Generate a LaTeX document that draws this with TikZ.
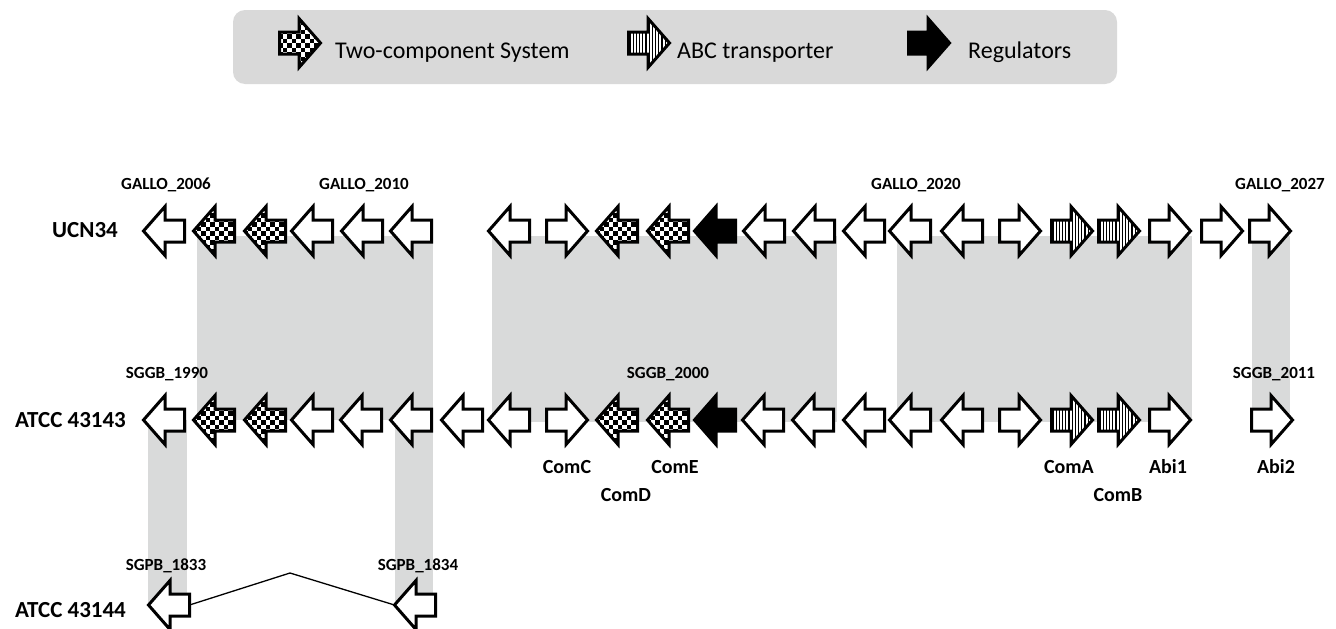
\documentclass[tikz,border=0pt]{standalone}
\usepackage{fontspec}
\setmainfont{Carlito}
\definecolor{bandgray}{RGB}{217,218,218}
\definecolor{legendgray}{RGB}{217,217,217}
\newcommand\gL[2]{({#1+1.5},{#2}) -- ({#1+23},{#2-24.5}) -- ({#1+23},{#2-11}) -- ({#1+42.5},{#2-11}) -- ({#1+42.5},{#2+11}) -- ({#1+23},{#2+11}) -- ({#1+23},{#2+24.5}) -- cycle}
\newcommand\gR[2]{({#1+42.5},{#2}) -- ({#1+21},{#2-24.5}) -- ({#1+21},{#2-11}) -- ({#1+1.5},{#2-11}) -- ({#1+1.5},{#2+11}) -- ({#1+21},{#2+11}) -- ({#1+21},{#2+24.5}) -- cycle}
\newcommand\gfillwhite[2]{\fill[white] ({#1-2},{#2-30}) rectangle ({#1+48},{#2+30});}
\newcommand\gfillblack[2]{\fill[black] ({#1-2},{#2-30}) rectangle ({#1+48},{#2+30});}
\newcommand\gfillcheck[2]{\fill[white] ({#1-2},{#2-30}) rectangle ({#1+48},{#2+30});
  \foreach \i in {0,...,9} {\pgfmathtruncatemacro\off{mod(\i,2)}
    \foreach \j in {0,...,6} {\fill[black] ({#1+\i*4.5},{#2-27+(2*\j+\off)*4.5}) rectangle ++(4.5,4.5);}}}
\newcommand\gfillstripe[2]{\fill[white] ({#1-2},{#2-30}) rectangle ({#1+48},{#2+30});
  \foreach \k in {0,...,13} {\draw[black,line width=1.2] ({#1+3+\k*3.2},{#2-30}) -- ++(0,60);}}
\newcommand\gene[5]{% name, x, y, dir, fill
  \ifx#4L\def\gpath{\gL{#2}{#3}}\else\def\gpath{\gR{#2}{#3}}\fi
  \begin{scope}
    \clip \gpath;
    \csname gfill#5\endcsname{#2}{#3}
  \end{scope}
  \draw[genebox] \gpath;
  \coordinate (#1-L) at ({#2+1.5},{#3});
  \coordinate (#1-R) at ({#2+42.5},{#3});
}
\begin{document}
\begin{tikzpicture}[x=1pt,y=-1pt,
  genebox/.style={draw=black,line width=3,line join=miter,miter limit=10},
  idlabel/.style={font=\bfseries\fontsize{17}{20}\selectfont,anchor=base,inner sep=0},
  genename/.style={font=\bfseries\fontsize{20}{24}\selectfont,anchor=base,inner sep=0},
  rowlabel/.style={font=\bfseries\fontsize{23}{28}\selectfont,inner sep=0},
  legtext/.style={font=\fontsize{24}{28}\selectfont,anchor=base west,inner sep=0},
  band/.style={fill=bandgray}]
\useasboundingbox (0,0) rectangle (1336,629);
\fill[white] (0,0) rectangle (1336,629);
% legend
\fill[legendgray,rounded corners=12] (233,10) rectangle (1117,84);
\gene{legA}{278}{43}{R}{check}
\node[legtext] (legAt) at (335,58) {Two-component System};
\gene{legB}{627}{43}{R}{stripe}
\node[legtext] (legBt) at (677,58) {ABC transporter};
\gene{legC}{907}{43}{R}{black}
\node[legtext] (legCt) at (968,58) {Regulators};
% homology bands
\fill[band] (197,236) rectangle (433,420);
\fill[band] (492,236) rectangle (837,422);
\fill[band] (897,236) rectangle (1192,422);
\fill[band] (1252,236) rectangle (1290,420);
\fill[band] (148,420) rectangle (187,605);
\fill[band] (395,420) rectangle (433,605);
% row labels
\node[rowlabel] (rowU) at (85,230) {UCN34};
\node[rowlabel] (rowA) at (70.5,420) {ATCC 43143};
\node[rowlabel] (rowB) at (70.5,610) {ATCC 43144};
% UCN34 genes
\gene{u1}{142}{231}{L}{white}
\gene{u2}{192}{231}{L}{check}
\gene{u3}{243}{231}{L}{check}
\gene{u4}{290}{231}{L}{white}
\gene{u5}{340}{231}{L}{white}
\gene{u6}{389}{231}{L}{white}
\gene{u7}{487}{231}{L}{white}
\gene{u8}{545}{231}{R}{white}
\gene{u9}{595}{231}{L}{check}
\gene{u10}{646}{231}{L}{check}
\gene{u11}{693}{231}{L}{black}
\gene{u12}{742}{231}{L}{white}
\gene{u13}{792}{231}{L}{white}
\gene{u14}{842}{231}{L}{white}
\gene{u15}{888}{231}{L}{white}
\gene{u16}{940}{231}{L}{white}
\gene{u17}{998}{231}{R}{white}
\gene{u18}{1050}{231}{R}{stripe}
\gene{u19}{1097}{231}{R}{stripe}
\gene{u20}{1148}{231}{R}{white}
\gene{u21}{1200}{231}{R}{white}
\gene{u22}{1248}{231}{R}{white}
% ATCC 43143 genes
\gene{a1}{142}{420}{L}{white}
\gene{a2}{192}{420}{L}{check}
\gene{a3}{243}{420}{L}{check}
\gene{a4}{290}{420}{L}{white}
\gene{a5}{339}{420}{L}{white}
\gene{a6}{389}{420}{L}{white}
\gene{a7}{440}{420}{L}{white}
\gene{a8}{487}{420}{L}{white}
\gene{a9}{545}{420}{R}{white}
\gene{a10}{595}{420}{L}{check}
\gene{a11}{646}{420}{L}{check}
\gene{a12}{693}{420}{L}{black}
\gene{a13}{741}{420}{L}{white}
\gene{a14}{791}{420}{L}{white}
\gene{a15}{842}{420}{L}{white}
\gene{a16}{888}{420}{L}{white}
\gene{a17}{940}{420}{L}{white}
\gene{a18}{998}{420}{R}{white}
\gene{a19}{1050}{420}{R}{stripe}
\gene{a20}{1097}{420}{R}{stripe}
\gene{a21}{1148}{420}{R}{white}
\gene{a22}{1250}{420}{R}{white}
% ATCC 43144 genes
\gene{b1}{147}{605}{L}{white}
\gene{b2}{393}{605}{L}{white}
\coordinate (peak) at (290,573);
\draw[line width=1.3] (b1-R) -- (peak) -- (b2-L);
% locus tags
\node[idlabel] (t1) at (166,189) {GALLO\_2006};
\node[idlabel] (t2) at (364,189) {GALLO\_2010};
\node[idlabel] (t3) at (916,189) {GALLO\_2020};
\node[idlabel] (t4) at (1280,189) {GALLO\_2027};
\node[idlabel] (t5) at (167,378) {SGGB\_1990};
\node[idlabel] (t6) at (668,378) {SGGB\_2000};
\node[idlabel] (t7) at (1274,378) {SGGB\_2011};
\node[idlabel] (t8) at (166,570) {SGPB\_1833};
\node[idlabel] (t9) at (418,570) {SGPB\_1834};
% gene names
\node[genename] (n1) at (567,473) {ComC};
\node[genename] (n2) at (626,501) {ComD};
\node[genename] (n3) at (675,473) {ComE};
\node[genename] (n4) at (1069,473) {ComA};
\node[genename] (n5) at (1118,501) {ComB};
\node[genename] (n6) at (1168,473) {Abi1};
\node[genename] (n7) at (1276,473) {Abi2};
\end{tikzpicture}
\end{document}
